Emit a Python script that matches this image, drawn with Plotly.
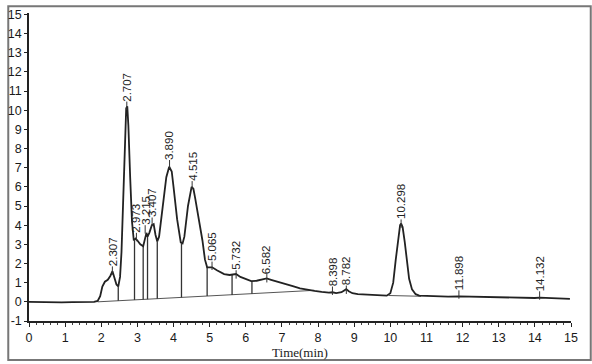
import plotly.graph_objects as go

# Chromatogram trace (time in min, signal)
time = [0.0, 0.3, 0.6, 0.9, 1.2, 1.5, 1.8, 1.9, 1.97, 2.03, 2.1, 2.18, 2.25, 2.31, 2.36, 2.42, 2.47,
        2.52, 2.56, 2.6, 2.65, 2.69, 2.72, 2.75, 2.8, 2.85, 2.9, 2.95, 3.0, 3.08, 3.16, 3.22, 3.25,
        3.28, 3.33, 3.4, 3.45, 3.5, 3.55, 3.6, 3.7, 3.8, 3.88, 3.95, 4.0, 4.1, 4.2, 4.25, 4.3, 4.4,
        4.5, 4.55, 4.6, 4.7, 4.8, 4.87, 4.93, 5.0, 5.07, 5.2, 5.4, 5.55, 5.73, 5.85, 6.0, 6.15, 6.3,
        6.45, 6.58, 6.7, 6.9, 7.1, 7.3, 7.5, 7.7, 7.9, 8.1, 8.3, 8.4, 8.5, 8.65, 8.78, 8.85, 8.95,
        9.1, 9.3, 9.5, 9.7, 9.9, 10.0, 10.08, 10.15, 10.22, 10.27, 10.3, 10.34, 10.4, 10.46, 10.52,
        10.6, 10.7, 10.8, 11.0, 11.3, 11.6, 11.9, 12.3, 12.8, 13.2, 13.6, 14.0, 14.13, 14.4, 14.7, 14.97]
signal = [0.0, -0.02, -0.01, -0.03, -0.02, -0.01, 0.0, 0.05, 0.3, 0.8, 1.05, 1.15, 1.35, 1.6, 1.3, 0.9, 0.8,
          1.3, 2.6, 5.0, 8.7, 10.1, 10.2, 9.2, 6.5, 4.2, 3.2, 3.3, 3.2, 3.0, 2.9, 3.5, 3.6,
          3.4, 3.6, 4.0, 4.05, 3.5, 3.15, 3.4, 5.0, 6.5, 7.05, 6.8, 6.0, 4.3, 3.1, 3.05, 3.4, 5.0,
          6.0, 5.9, 5.4, 4.4, 3.2, 2.2, 1.8, 1.8, 1.8, 1.65, 1.45, 1.4, 1.45, 1.3, 1.2, 1.08, 1.1,
          1.17, 1.22, 1.15, 1.05, 0.93, 0.82, 0.7, 0.62, 0.57, 0.52, 0.48, 0.5, 0.46, 0.5, 0.66, 0.55, 0.45,
          0.4, 0.38, 0.35, 0.33, 0.32, 0.45, 1.0, 2.2, 3.4, 4.0, 4.08, 3.9, 3.1, 2.0, 1.2,
          0.65, 0.4, 0.32, 0.3, 0.29, 0.27, 0.28, 0.26, 0.25, 0.24, 0.22, 0.2, 0.22, 0.19, 0.17, 0.15]

# Integration baselines (start/end times and levels)
base_t = [[1.9, 7.9], [9.95, 10.85]]
base_y = [[0.0, 0.6], [0.33, 0.29]]

# Peak drop lines (time, baseline level, curve level)
drop_t = [2.47, 2.92, 3.16, 3.28, 3.55, 4.22, 4.93, 5.62, 6.17]
drop_lo = [0.055, 0.1, 0.12, 0.135, 0.16, 0.23, 0.3, 0.36, 0.42]
drop_hi = [0.8, 3.2, 2.9, 3.45, 3.15, 3.05, 1.8, 1.4, 1.08]

# Peak labels (retention time, label foot level)
peak_labels = ["2.307", "2.707", "2.973", "3.215", "3.407", "3.890", "4.515", "5.065", "5.732",
               "6.582", "8.398", "8.782", "10.298", "11.898", "14.132"]
label_y = [1.75, 10.35, 3.5, 3.9, 4.3, 7.3, 6.2, 2.0, 1.55, 1.35, 0.7, 0.75, 4.2, 0.5, 0.45]

x_ticks = list(range(0, 16))
y_ticks = list(range(-1, 16))

W, H = 592, 364
ML, MR, MT, MB = 22, 21, 8, 41

fig = go.Figure()

line_color = "#222222"

# baselines
for bt, by in zip(base_t, base_y):
    fig.add_trace(go.Scatter(x=bt, y=by, mode="lines",
                             line=dict(color="#555555", width=1), hoverinfo="skip"))

# drop lines
dx, dy = [], []
for t, lo, hi in zip(drop_t, drop_lo, drop_hi):
    dx += [t, t, None]
    dy += [lo, hi, None]
fig.add_trace(go.Scatter(x=dx, y=dy, mode="lines",
                         line=dict(color="#333333", width=1.3), hoverinfo="skip"))

# main trace
fig.add_trace(go.Scatter(x=time, y=signal, mode="lines",
                         line=dict(color=line_color, width=1.8), hoverinfo="skip"))

# small label ticks
lab_t = [float(s) for s in peak_labels]
fig.add_trace(go.Scatter(x=lab_t, y=[v - 0.12 for v in label_y], mode="markers",
                         marker=dict(symbol="line-ns", size=6,
                                     line=dict(color="#333333", width=1)),
                         hoverinfo="skip"))

for s, v in zip(peak_labels, label_y):
    fig.add_annotation(x=float(s), y=v, text=s, showarrow=False, textangle=-90,
                       xanchor="center", yanchor="bottom",
                       font=dict(family="Liberation Sans, Arial", size=11.5, color="#222222"))

fig.update_layout(
    width=W, height=H,
    margin=dict(l=ML, r=MR, t=MT, b=MB),
    paper_bgcolor="white", plot_bgcolor="white",
    showlegend=False,
    xaxis=dict(range=[0, 15], tickvals=x_ticks, ticktext=[str(v) for v in x_ticks],
               showgrid=False, zeroline=False, showline=True, linecolor="#222222", linewidth=1.5,
               ticks="outside", ticklen=4, tickcolor="#222222",
               minor=dict(dtick=0.2, ticks="outside", ticklen=2, tickcolor="#444444"),
               tickfont=dict(family="Liberation Sans, Arial", size=12.5, color="#1a1a1a"),
               title=dict(text="Time(min)", standoff=2,
                          font=dict(family="Liberation Serif, Times New Roman", size=13, color="#222222"))),
    yaxis=dict(range=[-1, 15.07], tickvals=y_ticks, ticktext=[str(v) for v in y_ticks],
               showgrid=False, zeroline=False, showline=True, linecolor="#222222", linewidth=1.5,
               ticks="outside", ticklen=3, tickcolor="#222222",
               tickfont=dict(family="Liberation Sans, Arial", size=12.5, color="#1a1a1a")),
)

pw, ph = W - ML - MR, H - MT - MB
fig.add_shape(type="rect", xref="paper", yref="paper",
              x0=-(ML - 1) / pw, x1=1 + (MR - 1) / pw,
              y0=-(MB - 1) / ph, y1=1 + (MT - 1) / ph,
              line=dict(color="#777777", width=2), layer="below")

fig.write_html("out.html", config={"displayModeBar": False},
               post_script="document.body.style.margin='0';document.body.style.overflow='hidden';")
